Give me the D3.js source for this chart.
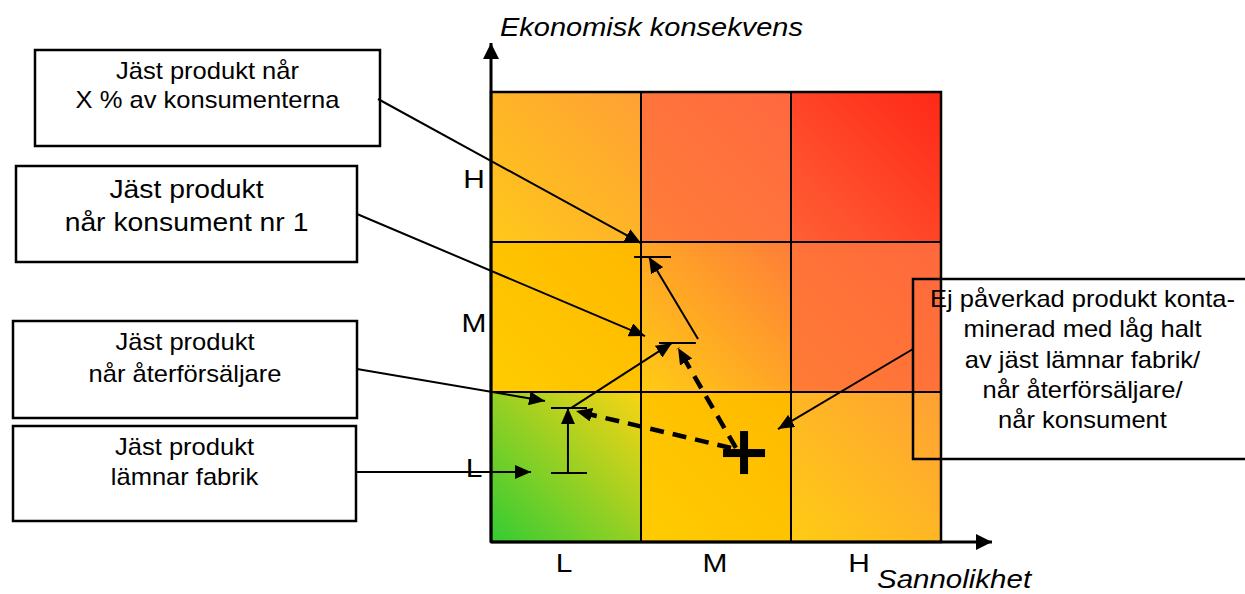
<!DOCTYPE html>
<html lang="sv">
<head>
  <meta charset="UTF-8">
  <title>Riskmatris – jäst produkt</title>
  <script src="https://d3js.org/d3.v7.min.js"></script>
  <style>
    body { margin: 0; background: #fff; }
    svg text { font-family: 'Liberation Sans', Arial, sans-serif; fill: #000; }
  </style>
</head>
<body>
  <svg id="chart" width="1245" height="594"></svg>

  <script>
    // nivåer på båda axlarna
    const levels = ["L", "M", "H"];
    const xTitle = "Sannolikhet";
    const yTitle = "Ekonomisk konsekvens";
    // var etiketterna står (i matrisens enheter, 0–3)
    const xTickPos = [0.487, 1.493, 2.453];
    const yTickPos = [0.5, 1.467, 2.427];

    // cellfärger [nere-vänster, uppe-höger], rad = konsekvens L..H, kolumn = sannolikhet L..H
    const cellColors = [
      [["#33cc33", "#fad414"], ["#ffcc00", "#ffb900"], ["#ffcc14", "#ffa035"]],
      [["#ffcc00", "#ffb800"], ["#ffcc14", "#ff7d38"], ["#ff7c35", "#ff683c"]],
      [["#ffc81a", "#ffa035"], ["#ff7e38", "#ff6840"], ["#ff6035", "#ff2818"]]
    ];

    // I-stapel och streck (x, y, halv bredd)
    const ticks = [
      { x: 0.52, y: 0.46, hw: 0.12 },
      { x: 0.52, y: 0.893, hw: 0.12 },
      { x: 1.243, y: 1.327, hw: 0.123 },
      { x: 1.077, y: 1.9, hw: 0.123 }
    ];
    // heldragna pilar
    const solidArrows = [
      { from: [0.513, 0.46], to: [0.513, 0.893] },
      { from: [0.533, 0.893], to: [1.207, 1.327] },
      { from: [1.38, 1.353], to: [1.053, 1.9] }
    ];
    // streckade pilar från korset
    const dashedArrows = [
      { from: [1.6, 0.627], to: [0.567, 0.873] },
      { from: [1.633, 0.627], to: [1.247, 1.293] }
    ];
    const cross = { x: 1.687, y: 0.593 };

    // textrutor och vart de pekar
    const notes = [
      { lines: ["Jäst produkt når", "X % av konsumenterna"], target: [1.0, 1.993] },
      { lines: ["Jäst produkt", "når konsument nr 1"], target: [1.027, 1.373] },
      { lines: ["Jäst produkt", "når återförsäljare"], target: [0.36, 0.94] },
      { lines: ["Jäst produkt", "lämnar fabrik"], target: [0.267, 0.467] },
      { lines: ["Ej påverkad produkt konta-", "minerad med låg halt", "av jäst lämnar fabrik/", "når återförsäljare/", "når konsument"], target: [1.913, 0.753] }
    ];
    // rutornas placering på sidan
    const noteBoxes = [
      { x: 35, y: 50, w: 345, h: 96, ax: 378, ay: 99, base: [79, 108], fs: 23 },
      { x: 16, y: 166, w: 341, h: 96, ax: 357, ay: 214, base: [198, 231], fs: 25.5 },
      { x: 13, y: 321, w: 344, h: 97, ax: 357, ay: 369, base: [350, 382], fs: 23 },
      { x: 13, y: 426, w: 343, h: 95, ax: 356, ay: 472, base: [455, 485], fs: 23 },
      { x: 913, y: 279, w: 339, h: 180, ax: 913, ay: 349, base: [307, 337, 368, 398, 428], fs: 23, behind: true }
    ];

    const svg = d3.select("#chart");
    const x = d3.scaleLinear().domain([0, 3]).range([491, 941]);
    const y = d3.scaleLinear().domain([0, 3]).range([542, 92]);
    const SX = 1.11; // bilden är något utdragen på bredden

    function stretchText(g, str, cx, by, size, anchor, italic, sx) {
      return g.append("text")
        .attr("transform", `translate(${cx},${by}) scale(${sx || SX},1)`)
        .attr("text-anchor", anchor)
        .style("font-size", size + "px")
        .style("font-style", italic ? "italic" : "normal")
        .text(str);
    }

    const defs = svg.append("defs");
    defs.append("marker")
      .attr("id", "head")
      .attr("markerUnits", "userSpaceOnUse")
      .attr("viewBox", "0 0 16 14")
      .attr("refX", 16).attr("refY", 7)
      .attr("markerWidth", 16).attr("markerHeight", 14)
      .attr("orient", "auto")
      .append("path").attr("d", "M0,0 L16,7 L0,14 Z").attr("fill", "#000");
    defs.append("marker")
      .attr("id", "axisHead")
      .attr("markerUnits", "userSpaceOnUse")
      .attr("viewBox", "0 0 16 16")
      .attr("refX", 16).attr("refY", 8)
      .attr("markerWidth", 16).attr("markerHeight", 16)
      .attr("orient", "auto")
      .append("path").attr("d", "M0,0 L16,8 L0,16 Z").attr("fill", "#000");

    // vita rutor till vänster
    noteBoxes.forEach(b => {
      if (!b.behind) {
        svg.append("rect")
          .attr("x", b.x).attr("y", b.y).attr("width", b.w).attr("height", b.h)
          .attr("fill", "#fff").attr("stroke", "#000").attr("stroke-width", 2.5);
      }
    });

    // celler med egna gradienter
    const cells = [];
    cellColors.forEach((row, r) => row.forEach((c, k) => cells.push({ r, k, c })));
    cells.forEach(d => {
      const gr = defs.append("linearGradient")
        .attr("id", `cell${d.r}${d.k}`)
        .attr("x1", 0).attr("y1", 1).attr("x2", 1).attr("y2", 0);
      gr.append("stop").attr("offset", "0%").attr("stop-color", d.c[0]);
      gr.append("stop").attr("offset", "100%").attr("stop-color", d.c[1]);
    });
    svg.append("g").selectAll("rect")
      .data(cells)
      .join("rect")
      .attr("x", d => x(d.k))
      .attr("y", d => y(d.r + 1))
      .attr("width", x(1) - x(0))
      .attr("height", y(0) - y(1))
      .attr("fill", d => `url(#cell${d.r}${d.k})`);

    // rutnät
    const grid = svg.append("g").attr("stroke", "#000").attr("stroke-width", 2);
    [1, 2].forEach(v => {
      grid.append("line").attr("x1", x(v)).attr("x2", x(v)).attr("y1", y(0)).attr("y2", y(3));
      grid.append("line").attr("x1", x(0)).attr("x2", x(3)).attr("y1", y(v)).attr("y2", y(v));
    });
    grid.append("rect")
      .attr("x", x(0)).attr("y", y(3)).attr("width", x(3) - x(0)).attr("height", y(0) - y(3))
      .attr("fill", "none").attr("stroke-width", 2.5);

    // axlar med pilar
    svg.append("line")
      .attr("x1", x(0)).attr("y1", y(0)).attr("x2", x(0)).attr("y2", y(3.327))
      .attr("stroke", "#000").attr("stroke-width", 3).attr("marker-end", "url(#axisHead)");
    svg.append("line")
      .attr("x1", x(0)).attr("y1", y(0)).attr("x2", x(3.34)).attr("y2", y(0))
      .attr("stroke", "#000").attr("stroke-width", 3).attr("marker-end", "url(#axisHead)");

    // axeltitlar och nivåer
    stretchText(svg, yTitle, 500, 36, 25, "start", true, 1.16);
    stretchText(svg, xTitle, 877, 588, 25, "start", true, 1.18);
    levels.forEach((l, i) => {
      stretchText(svg, l, x(xTickPos[i]), 572, 26, "middle", false, 1.15);
      stretchText(svg, l, 474, y(yTickPos[i]) + 10, 26, "middle", false, 1.15);
    });

    // ruta till höger (ligger över matrisen men utan fyllning)
    const rb = noteBoxes[4];
    svg.append("rect")
      .attr("x", rb.x).attr("y", rb.y).attr("width", rb.w).attr("height", rb.h)
      .attr("fill", "none").attr("stroke", "#000").attr("stroke-width", 2.5);

    // text i rutorna och pekare
    notes.forEach((n, i) => {
      const b = noteBoxes[i];
      n.lines.forEach((line, j) => {
        stretchText(svg, line, b.x + b.w / 2, b.base[j], b.fs, "middle", false);
      });
      svg.append("line")
        .attr("x1", b.ax).attr("y1", b.ay)
        .attr("x2", x(n.target[0])).attr("y2", y(n.target[1]))
        .attr("stroke", "#000").attr("stroke-width", 2)
        .attr("marker-end", "url(#head)");
    });

    // streck
    svg.append("g").selectAll("line")
      .data(ticks)
      .join("line")
      .attr("x1", d => x(d.x - d.hw)).attr("x2", d => x(d.x + d.hw))
      .attr("y1", d => y(d.y)).attr("y2", d => y(d.y))
      .attr("stroke", "#000").attr("stroke-width", 2);

    svg.append("g").selectAll("line")
      .data(solidArrows)
      .join("line")
      .attr("x1", d => x(d.from[0])).attr("y1", d => y(d.from[1]))
      .attr("x2", d => x(d.to[0])).attr("y2", d => y(d.to[1]))
      .attr("stroke", "#000").attr("stroke-width", 2)
      .attr("marker-end", "url(#head)");

    svg.append("g").selectAll("line")
      .data(dashedArrows)
      .join("line")
      .attr("x1", d => x(d.from[0])).attr("y1", d => y(d.from[1]))
      .attr("x2", d => x(d.to[0])).attr("y2", d => y(d.to[1]))
      .attr("stroke", "#000").attr("stroke-width", 4.5)
      .attr("stroke-dasharray", "14,9")
      .attr("marker-end", "url(#head)");

    // kors
    const cx = x(cross.x), cy = y(cross.y);
    svg.append("rect").attr("x", cx - 4).attr("y", cy - 22).attr("width", 8).attr("height", 43).attr("fill", "#000");
    svg.append("rect").attr("x", cx - 21).attr("y", cy - 4).attr("width", 42).attr("height", 8).attr("fill", "#000");
  </script>
</body>
</html>
